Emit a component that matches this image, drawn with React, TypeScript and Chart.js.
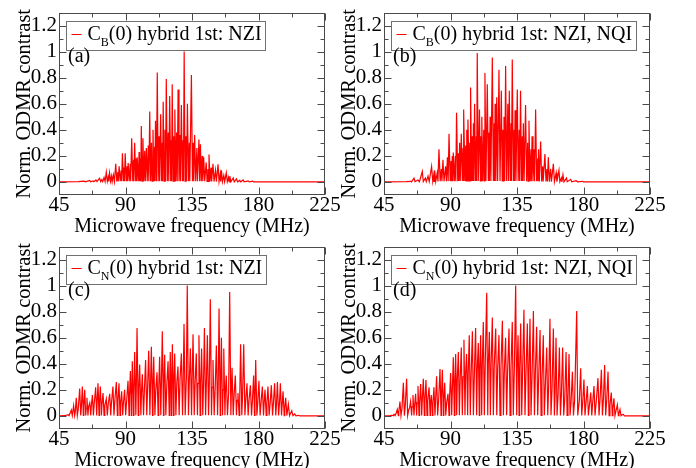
import React, { useEffect, useRef } from "react";
import { Chart, registerables } from "chart.js";

Chart.register(...registerables);

// ---------- axis definitions ----------
const xTicks = [45, 90, 135, 180, 225];
const xMinorTicks = [67.5, 112.5, 157.5, 202.5];
const yTicks = [0, 0.2, 0.4, 0.6, 0.8, 1, 1.2];
const yTickLabels = ["0", "0.2", "0.4", "0.6", "0.8", "1", "1.2"];
const yMinorTicks = [0.1, 0.3, 0.5, 0.7, 0.9, 1.1];
const xTitle = "Microwave frequency (MHz)";
const yTitle = "Norm. ODMR contrast";

// ---------- spectra: [frequency MHz, normalized contrast] ----------
const specA: [number, number][] = [
  [45, 0], [58, 0.002], [62, 0.006], [62.8, 0.001], [65.7, 0.012], [66.4, 0.002], [68, 0.008], [68.6, 0.002],
  [70, 0.015], [70.7, 0.003], [72.5, 0.028], [73.2, 0.003], [74, 0.018], [74.6, 0.003], [75.5, 0.035], [76.2, 0.003],
  [77, 0.075], [77.7, 0.004], [78.3, 0.035], [78.6, 0.004], [79.2, 0.07], [79.9, 0.004], [80.6, 0.045], [81, 0.004],
  [81.8, 0.055], [82.5, 0.004], [83.4, 0.14], [84.1, 0.004], [84.8, 0.075], [85.1, 0.004], [85.7, 0.12], [86.4, 0.005],
  [87.1, 0.09], [87.4, 0.005], [87.9, 0.22], [88.6, 0.005], [89.1, 0.11], [89.3, 0.005], [89.8, 0.22], [90.5, 0.005],
  [91.1, 0.12], [91.3, 0.005], [91.8, 0.145], [92.5, 0.005], [93.2, 0.14], [93.5, 0.005], [94.2, 0.335], [94.9, 0.005],
  [95.5, 0.17], [95.7, 0.005], [96.2, 0.3], [96.9, 0.005], [97.3, 0.18], [97.5, 0.005], [97.9, 0.19], [98.6, 0.005],
  [99.2, 0.23], [99.5, 0.006], [100.1, 0.18], [100.3, 0.006], [100.7, 0.43], [101.2, 0.006], [101.8, 0.335], [102.4, 0.006],
  [103, 0.24], [103.4, 0.006], [104.1, 0.26], [104.7, 0.006], [105.4, 0.28], [105.8, 0.006], [106.4, 0.54], [107, 0.006],
  [107.6, 0.3], [108, 0.006], [108.6, 0.4], [109.2, 0.006], [109.7, 0.27], [109.9, 0.006], [110.3, 0.47], [110.9, 0.006],
  [111.5, 0.84], [112.1, 0.006], [112.7, 0.35], [113.1, 0.006], [113.8, 0.52], [114.4, 0.006], [114.9, 0.3], [115.1, 0.006],
  [115.5, 0.615], [116.1, 0.006], [116.7, 0.4], [117.1, 0.006], [117.6, 0.79], [118.3, 0.006], [118.9, 0.38], [119.3, 0.006],
  [119.9, 0.66], [120.6, 0.006], [121, 0.32], [121.2, 0.006], [121.6, 0.75], [122.2, 0.006], [122.7, 0.35], [122.9, 0.006],
  [123.4, 0.555], [124, 0.006], [124.6, 0.38], [125, 0.006], [125.6, 0.71], [126.2, 0.006], [126.8, 0.36], [127.2, 0.006],
  [127.8, 0.59], [128.5, 0.006], [129, 0.32], [129.2, 0.006], [129.7, 1.0], [130.3, 0.006], [130.9, 0.35], [131.3, 0.006],
  [131.9, 0.6], [132.6, 0.006], [133.2, 0.3], [133.5, 0.006], [134.6, 0.82], [135.3, 0.006], [135.9, 0.3], [136.2, 0.006],
  [136.8, 0.36], [137.5, 0.006], [138.3, 0.26], [138.7, 0.006], [139.7, 0.325], [140.2, 0.005], [140.7, 0.29], [141.3, 0.005],
  [141.9, 0.2], [142.3, 0.005], [142.9, 0.19], [143.6, 0.005], [144.6, 0.15], [145.2, 0.004], [145.8, 0.1], [146.1, 0.004],
  [146.5, 0.21], [147.2, 0.004], [147.9, 0.11], [148.3, 0.004], [149.2, 0.14], [149.9, 0.003], [150.9, 0.09], [151.5, 0.003],
  [152.6, 0.135], [153.3, 0.003], [154.1, 0.06], [154.4, 0.003], [154.9, 0.09], [155.6, 0.002], [156.5, 0.05], [157.1, 0.002],
  [158.2, 0.07], [158.9, 0.002], [159.7, 0.035], [160.1, 0.002], [160.6, 0.045], [161.3, 0.001], [162.9, 0.03], [163.6, 0.001],
  [165.1, 0.025], [165.8, 0.001], [167.3, 0.012], [168, 0.001], [169.6, 0.015], [170.3, 0.001], [173, 0.008], [173.7, 0.001],
  [176, 0.006], [176.7, 0], [225, 0],
];

const specB: [number, number][] = [
  [45, 0], [60, 0.003], [63, 0.005], [63.6, 0.001], [65.3, 0.03], [66, 0.002], [68, 0.015], [69, 0.002], [70.9, 0.08],
  [71.6, 0.003], [73, 0.03], [73.6, 0.003], [74.8, 0.045], [75.6, 0.003], [77.2, 0.12], [78, 0.004], [78.6, 0.05], [78.9, 0.004],
  [79.3, 0.09], [80, 0.004], [81, 0.07], [81.5, 0.004], [82.2, 0.25], [83, 0.005], [83.8, 0.1], [84.2, 0.005], [84.9, 0.17],
  [85.6, 0.005], [86.7, 0.12], [87.2, 0.005], [87.9, 0.19], [88.4, 0.006], [89, 0.37], [89.8, 0.006], [90.4, 0.16], [90.7, 0.006],
  [91.2, 0.2], [91.5, 0.006], [91.9, 0.225], [92.6, 0.006], [93.3, 0.2], [93.6, 0.006], [94.1, 0.53], [94.9, 0.006], [95.4, 0.22],
  [95.7, 0.007], [96.2, 0.3], [96.6, 0.007], [97.3, 0.37], [98, 0.007], [98.5, 0.26], [98.7, 0.007], [99.1, 0.555], [99.8, 0.007],
  [100.3, 0.28], [100.6, 0.008], [101, 0.4], [101.4, 0.008], [101.8, 0.48], [102.6, 0.008], [103, 0.3], [103.2, 0.008], [103.6, 0.725],
  [104.3, 0.008], [104.8, 0.35], [105.1, 0.008], [105.5, 0.45], [105.8, 0.008], [106.3, 0.6], [106.9, 0.008], [107.5, 0.35],
  [107.7, 0.008], [108.1, 0.99], [108.8, 0.008], [109.6, 0.555], [110.2, 0.008], [110.6, 0.35], [110.8, 0.008], [111.2, 0.5],
  [111.8, 0.008], [112.5, 0.4], [112.8, 0.008], [113.3, 0.835], [114, 0.008], [114.9, 0.75], [115.6, 0.008], [116.1, 0.38],
  [116.3, 0.008], [116.8, 0.5], [117.3, 0.008], [118.3, 0.955], [119, 0.008], [119.6, 0.45], [119.8, 0.008], [120.2, 0.6],
  [120.7, 0.008], [121.3, 0.65], [121.9, 0.008], [122.8, 0.86], [123.5, 0.008], [124.4, 0.7], [125, 0.008], [125.5, 0.4],
  [125.7, 0.008], [126.2, 0.5], [126.7, 0.008], [127.3, 0.89], [128, 0.008], [128.8, 0.6], [129.2, 0.008], [129.8, 0.7],
  [130.4, 0.008], [131, 0.45], [131.2, 0.008], [131.8, 0.94], [132.5, 0.008], [133.1, 0.4], [133.3, 0.008], [133.7, 0.55],
  [134.3, 0.008], [135.2, 0.71], [135.8, 0.007], [136.5, 0.4], [136.8, 0.007], [137.4, 0.7], [138, 0.007], [138.6, 0.35],
  [138.8, 0.007], [139.3, 0.45], [139.8, 0.007], [140.8, 0.59], [141.5, 0.006], [142.2, 0.3], [142.5, 0.006], [143.1, 0.47],
  [143.8, 0.006], [144.5, 0.25], [144.7, 0.006], [145.2, 0.35], [145.8, 0.005], [146.6, 0.25], [146.9, 0.005], [147.6, 0.555],
  [148.3, 0.005], [149, 0.18], [149.2, 0.005], [149.6, 0.25], [150.1, 0.004], [151, 0.31], [151.7, 0.004], [152.4, 0.12],
  [152.7, 0.004], [153.9, 0.215], [154.6, 0.003], [155.3, 0.1], [155.6, 0.003], [156.2, 0.19], [156.9, 0.003], [157.8, 0.1],
  [158.3, 0.002], [159.6, 0.14], [160.3, 0.002], [161.5, 0.07], [162, 0.002], [163.4, 0.09], [164, 0.002], [165, 0.03],
  [165.4, 0.001], [166.1, 0.056], [166.8, 0.001], [168.5, 0.03], [169, 0.001], [171.3, 0.02], [172, 0.001], [175, 0.01],
  [176, 0.001], [179.2, 0.005], [180, 0], [225, 0],
];

const specC: [number, number][] = [
  [45, 0], [49, 0.002], [51.1, 0.01], [51.8, 0.002], [52.5, 0.02], [53.3, 0.045], [54, 0.003], [54.9, 0.08], [55.6, 0.003],
  [56, 0.03], [56.7, 0.14], [57.4, 0.003], [58, 0.05], [59, 0.21], [59.7, 0.004], [60.1, 0.06], [60.8, 0.225], [61.5, 0.004],
  [61.8, 0.07], [62.4, 0.2], [63.1, 0.004], [63.4, 0.06], [63.9, 0.14], [64.6, 0.004], [65, 0.07], [65.8, 0.1], [66.5, 0.004],
  [66.9, 0.08], [67.6, 0.16], [68.3, 0.004], [68.8, 0.09], [69.8, 0.22], [70.5, 0.004], [70.8, 0.1], [71.4, 0.25], [72.1, 0.004],
  [72.4, 0.1], [73, 0.225], [73.7, 0.004], [74.1, 0.09], [74.8, 0.175], [75.5, 0.004], [76, 0.08], [77, 0.13], [77.7, 0.004],
  [78.3, 0.09], [79.3, 0.17], [80, 0.004], [80.5, 0.1], [81.5, 0.225], [82.2, 0.004], [82.8, 0.12], [83.8, 0.26], [84.5, 0.004],
  [84.9, 0.12], [85.6, 0.25], [86.3, 0.005], [86.7, 0.1], [87.4, 0.19], [88.1, 0.005], [88.6, 0.1], [89.4, 0.2], [90.1, 0.005],
  [90.8, 0.12], [91.7, 0.27], [92.4, 0.005], [92.7, 0.15], [93.3, 0.345], [94, 0.005], [94.2, 0.16], [94.6, 0.42], [95.4, 0.005],
  [95.7, 0.18], [96.2, 0.49], [97, 0.005], [97.3, 0.2], [97.8, 0.675], [98.6, 0.005], [99, 0.2], [99.6, 0.395], [100.4, 0.005],
  [100.8, 0.18], [101.4, 0.32], [102.2, 0.005], [102.8, 0.2], [103.6, 0.43], [104.4, 0.005], [104.9, 0.2], [105.7, 0.5], [106.5, 0.005],
  [106.9, 0.22], [107.5, 0.53], [108.3, 0.005], [108.6, 0.22], [109.1, 0.455], [109.9, 0.005], [110.5, 0.2], [111.3, 0.335], [112.1, 0.005],
  [112.5, 0.22], [113.1, 0.455], [113.9, 0.005], [114.3, 0.25], [114.9, 0.65], [115.7, 0.005], [116, 0.25], [116.5, 0.47], [117.3, 0.005],
  [118, 0.25], [118.8, 0.42], [119.6, 0.005], [119.9, 0.25], [120.3, 0.49], [121, 0.005], [121.3, 0.27], [121.7, 0.55], [122.5, 0.005],
  [122.8, 0.27], [123.3, 0.48], [124.1, 0.005], [124.7, 0.25], [125.5, 0.38], [126.3, 0.005], [126.9, 0.28], [127.8, 0.48], [128.6, 0.005],
  [129.1, 0.3], [129.6, 0.705], [130.4, 0.005], [131.2, 0.3], [131.8, 1.0], [132.6, 0.005], [133.2, 0.28], [133.9, 0.517], [134.7, 0.005],
  [135.1, 0.28], [135.7, 0.627], [136.5, 0.005], [137.1, 0.25], [137.9, 0.48], [138.7, 0.005], [139.1, 0.25], [139.7, 0.62], [140.5, 0.005],
  [140.9, 0.25], [141.5, 0.517], [142.3, 0.005], [142.8, 0.25], [143.4, 0.675], [144.2, 0.005], [144.7, 0.24], [145.4, 0.62], [146.2, 0.005],
  [146.7, 0.24], [147.4, 0.895], [148.2, 0.005], [148.6, 0.22], [149.2, 0.43], [150, 0.005], [150.7, 0.22], [151.5, 0.54], [152.3, 0.005],
  [152.7, 0.2], [153.3, 0.825], [154.1, 0.005], [154.4, 0.2], [154.9, 0.6], [155.7, 0.005], [156, 0.2], [156.5, 0.517], [157.3, 0.005],
  [157.6, 0.18], [158.2, 0.31], [159, 0.005], [159.8, 0.18], [160.5, 0.95], [161.3, 0.005], [161.6, 0.17], [162.1, 0.37], [162.9, 0.005],
  [163.5, 0.16], [164.3, 0.31], [165.1, 0.005], [165.5, 0.12], [166.1, 0.175], [166.9, 0.005], [167.3, 0.15], [167.9, 0.55], [168.7, 0.005],
  [169.2, 0.15], [170, 0.55], [170.8, 0.005], [171.4, 0.12], [172.2, 0.25], [173, 0.004], [173.6, 0.12], [174.5, 0.235], [175.3, 0.004],
  [175.9, 0.12], [176.7, 0.31], [177.3, 0.004], [177.6, 0.12], [178.1, 0.43], [178.9, 0.004], [179.5, 0.1], [180.3, 0.27], [181.1, 0.004],
  [181.7, 0.1], [182.6, 0.225], [183.4, 0.004], [183.8, 0.1], [184.4, 0.2], [185.2, 0.004], [185.7, 0.1], [186.4, 0.225], [187.2, 0.004],
  [187.9, 0.1], [188.7, 0.235], [189.5, 0.004], [190.1, 0.1], [190.9, 0.25], [191.7, 0.004], [192.2, 0.1], [192.8, 0.26], [193.6, 0.004],
  [194.2, 0.1], [194.8, 0.25], [195.6, 0.004], [196, 0.08], [196.6, 0.19], [197.4, 0.003], [197.8, 0.06], [198.4, 0.14], [199.2, 0.003],
  [199.6, 0.04], [200.2, 0.09], [201, 0.002], [201.7, 0.02], [202.5, 0.04], [203.3, 0.002], [204.5, 0.015], [205.3, 0.001], [207, 0.005],
  [208, 0], [225, 0],
];

const specD: [number, number][] = [
  [45, 0], [49, 0.002], [50.5, 0.005], [51.2, 0.001], [51.8, 0.012], [52.5, 0.002], [53.2, 0.02], [54, 0.05], [54.7, 0.003],
  [55, 0.03], [55.8, 0.11], [56.5, 0.003], [57.2, 0.06], [58.1, 0.255], [58.8, 0.003], [59.4, 0.08], [60.3, 0.285], [61, 0.003],
  [61.8, 0.05], [62.3, 0.06], [63, 0.11], [63.7, 0.004], [64, 0.07], [64.6, 0.16], [65.3, 0.004], [65.7, 0.08], [66.4, 0.17],
  [67.1, 0.004], [67.4, 0.1], [68, 0.23], [68.7, 0.004], [69.1, 0.1], [69.8, 0.245], [70.5, 0.004], [70.9, 0.12], [71.6, 0.285],
  [72.3, 0.004], [72.7, 0.12], [73.4, 0.275], [74.1, 0.004], [74.6, 0.12], [75.5, 0.22], [76.2, 0.004], [76.4, 0.1], [77, 0.16],
  [77.7, 0.004], [78.1, 0.1], [78.8, 0.22], [79.5, 0.004], [79.9, 0.12], [80.6, 0.305], [81.3, 0.004], [82, 0.13], [82.9, 0.36],
  [83.6, 0.004], [83.9, 0.14], [84.5, 0.355], [85.2, 0.004], [85.5, 0.12], [86.1, 0.255], [86.8, 0.004], [87.4, 0.1], [88.3, 0.17],
  [89, 0.005], [89.4, 0.15], [90.1, 0.33], [90.8, 0.005], [91.3, 0.22], [91.9, 0.45], [92.6, 0.005], [93, 0.26], [93.5, 0.475],
  [94.2, 0.005], [94.6, 0.28], [95.3, 0.49], [96, 0.005], [96.6, 0.3], [97.3, 0.525], [98, 0.005], [98.5, 0.3], [99.1, 0.585],
  [99.8, 0.005], [100.2, 0.32], [100.9, 0.475], [101.6, 0.005], [102, 0.33], [102.7, 0.62], [103.4, 0.005], [104, 0.33], [104.8, 0.65],
  [105.5, 0.005], [106.2, 0.35], [107, 0.675], [107.7, 0.005], [108.1, 0.35], [108.8, 0.56], [109.5, 0.005], [109.8, 0.36], [110.4, 0.62],
  [111.1, 0.005], [111.5, 0.38], [112.2, 0.72], [112.9, 0.005], [113.5, 0.4], [114.5, 0.945], [115.2, 0.005], [115.6, 0.4], [116.3, 0.645],
  [117, 0.005], [117.5, 0.4], [118.3, 0.755], [119, 0.005], [119.6, 0.38], [120.6, 0.67], [121.3, 0.005], [121.9, 0.36], [122.8, 0.62],
  [123.5, 0.005], [124.1, 0.35], [125.1, 0.73], [125.8, 0.005], [126.4, 0.33], [127.3, 0.6], [128, 0.005], [128.6, 0.33], [129.6, 0.67],
  [130.3, 0.005], [130.9, 0.35], [131.8, 0.72], [132.5, 0.005], [133.2, 0.36], [134.1, 1.0], [134.8, 0.005], [135.1, 0.36], [135.7, 0.62],
  [136.4, 0.005], [136.8, 0.36], [137.5, 0.71], [138.2, 0.005], [138.8, 0.35], [139.7, 0.815], [140.4, 0.005], [141.1, 0.33], [142, 0.71],
  [142.7, 0.005], [143.1, 0.33], [143.8, 0.745], [144.5, 0.005], [145.2, 0.32], [146.1, 0.805], [146.8, 0.005], [147.4, 0.32], [148.3, 0.685],
  [149, 0.005], [149.7, 0.3], [150.6, 0.66], [151.3, 0.005], [151.9, 0.27], [152.8, 0.62], [153.5, 0.005], [154.2, 0.24], [155.1, 0.525],
  [155.8, 0.005], [156.4, 0.22], [157.3, 0.745], [158, 0.005], [158.7, 0.2], [159.6, 0.67], [160.3, 0.004], [160.8, 0.18], [161.4, 0.6],
  [162.1, 0.004], [162.8, 0.16], [163.7, 0.525], [164.4, 0.004], [165, 0.15], [165.9, 0.525], [166.6, 0.004], [167.3, 0.13], [168.2, 0.49],
  [168.9, 0.004], [169.5, 0.13], [170.2, 0.475], [170.9, 0.004], [171.6, 0.11], [172.5, 0.34], [173.2, 0.004], [174, 0.12], [175.4, 0.805],
  [176.1, 0.004], [177.2, 0.12], [178.1, 0.365], [178.8, 0.004], [179.5, 0.11], [180.3, 0.28], [181, 0.004], [181.7, 0.1], [182.6, 0.23],
  [183.3, 0.004], [184, 0.08], [184.9, 0.18], [185.6, 0.004], [186.2, 0.1], [187.1, 0.23], [187.8, 0.004], [188.7, 0.12], [189.8, 0.29],
  [190.5, 0.004], [191.2, 0.13], [192.1, 0.355], [192.8, 0.004], [193.5, 0.13], [194.3, 0.39], [195, 0.004], [195.7, 0.12], [196.6, 0.34],
  [197.3, 0.003], [197.9, 0.08], [198.8, 0.18], [199.5, 0.003], [199.9, 0.06], [200.6, 0.135], [201.3, 0.002], [202, 0.04], [202.9, 0.085],
  [203.6, 0.002], [204, 0.02], [204.7, 0.05], [205.4, 0.001], [206.2, 0.01], [207, 0.012], [207.7, 0], [225, 0],
];

// legend pieces: subscript and remainder; panel tags
const legendSubs = ["B", "B", "N", "N"];
const legendTails = ["(0) hybrid 1st: NZI", "(0) hybrid 1st: NZI, NQI", "(0) hybrid 1st: NZI", "(0) hybrid 1st: NZI, NQI"];
const panelTags = ["(a)", "(b)", "(c)", "(d)"];
const spectra = [specA, specB, specC, specD];

// ---------- layout / style ----------
const FONT = '"Liberation Serif", "DejaVu Serif", "Times New Roman", serif';
const FRAME = "#4a4a4a";
const RED = "#ff0000";
const CANVAS_W = 348;
const CANVAS_H = 240;
const panelPos = [
  { left: 0, top: 0 },
  { left: 325, top: 0 },
  { left: 0, top: 234 },
  { left: 325, top: 234 },
];

const decorPlugin = {
  id: "decor",
  afterDatasetsDraw(chart: any, _args: any, opts: any) {
    const { ctx, chartArea: ca, scales } = chart;
    const xs = scales.x;
    const ys = scales.y;
    const L = Math.round(ca.left) + 0.5;
    const R = Math.round(ca.right) - 0.5;
    const T = Math.round(ca.top) + 0.5;
    const B = Math.round(ca.bottom) - 0.5;
    ctx.save();
    ctx.strokeStyle = FRAME;
    ctx.lineWidth = 1;
    ctx.beginPath();
    const major = 7;
    const minor = 4;
    const xt = (v: number, len: number) => {
      const p = Math.round(xs.getPixelForValue(v)) + 0.5;
      ctx.moveTo(p, B);
      ctx.lineTo(p, B - len);
      ctx.moveTo(p, T);
      ctx.lineTo(p, T + len);
    };
    const yt = (v: number, len: number) => {
      const p = Math.round(ys.getPixelForValue(v)) + 0.5;
      ctx.moveTo(L, p);
      ctx.lineTo(L + len, p);
      ctx.moveTo(R, p);
      ctx.lineTo(R - len, p);
    };
    xTicks.forEach((v) => xt(v, major));
    xMinorTicks.forEach((v) => xt(v, minor));
    yTicks.forEach((v) => yt(v, major));
    yMinorTicks.forEach((v) => yt(v, minor));
    ctx.stroke();
    ctx.strokeRect(L, T, R - L, B - T);

    // legend box
    const mainFont = `20px ${FONT}`;
    const subFont = `12px ${FONT}`;
    ctx.font = mainFont;
    const wC = ctx.measureText("C").width;
    const wTail = ctx.measureText(opts.tail).width;
    ctx.font = subFont;
    const wSub = ctx.measureText(opts.sub).width;
    const bx = Math.round(ca.left + 7) + 0.5;
    const by = Math.round(ca.top + 8) + 0.5;
    const bw = Math.round(21 + wC + wSub + wTail + 4);
    const bh = 29;
    ctx.fillStyle = "#ffffff";
    ctx.fillRect(bx, by, bw, bh);
    ctx.strokeStyle = "#707070";
    ctx.strokeRect(bx, by, bw, bh);
    ctx.strokeStyle = RED;
    ctx.beginPath();
    ctx.moveTo(bx + 5, by + 13);
    ctx.lineTo(bx + 15, by + 13);
    ctx.stroke();
    ctx.fillStyle = "#000000";
    ctx.textAlign = "left";
    ctx.textBaseline = "alphabetic";
    const base = by + 18.5;
    let tx = bx + 21;
    ctx.font = mainFont;
    ctx.fillText("C", tx, base);
    tx += wC;
    ctx.font = subFont;
    ctx.fillText(opts.sub, tx, base + 6);
    tx += wSub;
    ctx.font = mainFont;
    ctx.fillText(opts.tail, tx, base);

    // panel tag
    ctx.font = mainFont;
    ctx.fillText(opts.tag, ca.left + 9, ca.top + 49);
    ctx.restore();
  },
};

function Panel({ idx }: { idx: number }) {
  const ref = useRef<HTMLCanvasElement | null>(null);
  useEffect(() => {
    if (!ref.current) return;
    const spec = spectra[idx];
    const chart = new Chart(ref.current, {
      type: "line",
      data: {
        datasets: [
          {
            data: spec.map(([x, y]) => ({ x, y })),
            borderColor: RED,
            borderWidth: 1.2,
            pointRadius: 0,
            fill: false,
            tension: 0,
          },
        ],
      },
      options: {
        animation: false,
        responsive: false,
        events: [],
        layout: { padding: { left: 0, right: 23, top: 5, bottom: 0 } },
        plugins: {
          legend: { display: false },
          tooltip: { enabled: false },
          decor: { sub: legendSubs[idx], tail: legendTails[idx], tag: panelTags[idx] },
        } as any,
        scales: {
          x: {
            type: "linear",
            min: 45,
            max: 225,
            afterBuildTicks: (s: any) => {
              s.ticks = xTicks.map((v) => ({ value: v }));
            },
            afterFit: (s: any) => {
              s.height = 45;
            },
            grid: { display: false, drawTicks: false },
            border: { display: false },
            ticks: {
              autoSkip: false,
              maxRotation: 0,
              padding: 0,
              color: "#000",
              font: { family: FONT, size: 21, lineHeight: 1 },
              callback: (v: any) => String(v),
            },
            title: {
              display: true,
              text: xTitle,
              color: "#000",
              font: { family: FONT, size: 20, lineHeight: 1 },
              padding: { top: 0, bottom: 3 },
            },
          },
          y: {
            type: "linear",
            min: -0.1,
            max: 1.3,
            afterBuildTicks: (s: any) => {
              s.ticks = yTicks.map((v) => ({ value: v }));
            },
            afterFit: (s: any) => {
              s.width = 59;
            },
            grid: { display: false, drawTicks: false },
            border: { display: false },
            ticks: {
              autoSkip: false,
              padding: 2,
              color: "#000",
              font: { family: FONT, size: 21, lineHeight: 1 },
              callback: (_v: any, i: number) => yTickLabels[i],
            },
            title: {
              display: true,
              text: yTitle,
              color: "#000",
              font: { family: FONT, size: 20.5, lineHeight: 1 },
              padding: { top: 14, bottom: 0 },
            },
          },
        },
      },
      plugins: [decorPlugin as any],
    });
    return () => chart.destroy();
  }, [idx]);
  const pos = panelPos[idx];
  return (
    <canvas
      ref={ref}
      width={CANVAS_W}
      height={CANVAS_H}
      style={{ position: "absolute", left: pos.left, top: pos.top, width: CANVAS_W, height: CANVAS_H, display: "block" }}
    />
  );
}

export default function App() {
  return (
    <div
      style={{
        position: "absolute",
        left: 0,
        top: 0,
        width: 696,
        height: 468,
        overflow: "hidden",
        background: "#ffffff",
      }}
    >
      {[0, 1, 2, 3].map((i) => (
        <Panel key={i} idx={i} />
      ))}
    </div>
  );
}
